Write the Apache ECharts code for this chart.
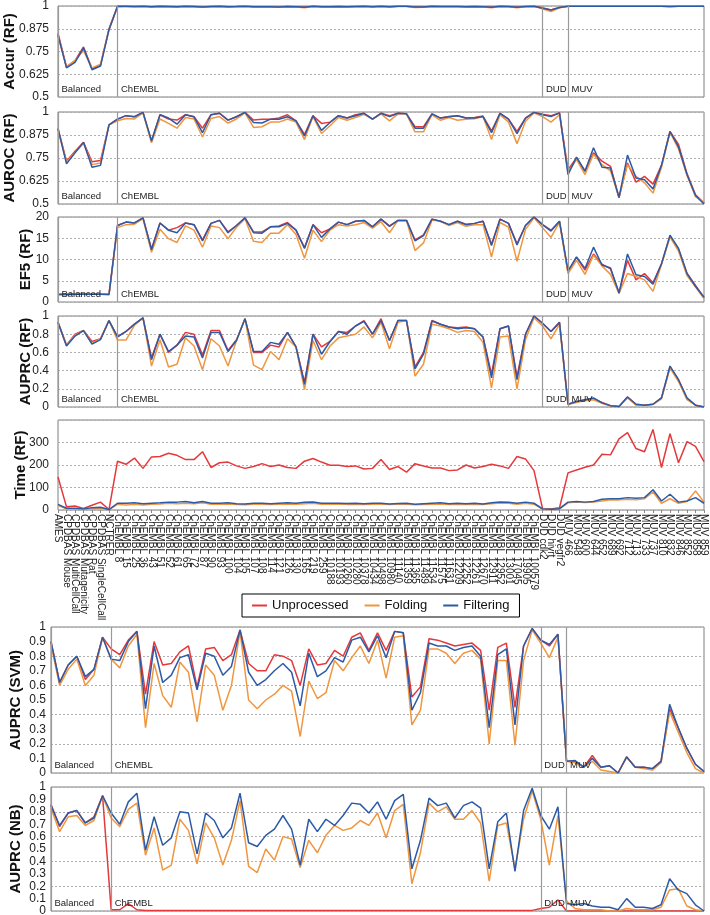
<!DOCTYPE html>
<html>
<head>
<meta charset="utf-8">
<script src="https://cdn.jsdelivr.net/npm/echarts@6/dist/echarts.min.js"></script>
<style>
  html, body { margin: 0; padding: 0; background: #fff; }
  #main { width: 710px; height: 915px; }
</style>
</head>
<body>
<div id="main"></div>
<script>
var categories = ['AMES', 'CPDBAS Mouse', 'CPDBAS MultiCellCall', 'CPDBAS Mutagenicity', 'CPDBAS Rat', 'CPDBAS SingleCellCall', 'NCTRER',
  'ChEMBL 8', 'ChEMBL 15', 'ChEMBL 25', 'ChEMBL 36', 'ChEMBL 43', 'ChEMBL 51', 'ChEMBL 52', 'ChEMBL 61', 'ChEMBL 65', 'ChEMBL 72',
  'ChEMBL 87', 'ChEMBL 90', 'ChEMBL 93', 'ChEMBL 100', 'ChEMBL 104', 'ChEMBL 105', 'ChEMBL 107', 'ChEMBL 108', 'ChEMBL 114', 'ChEMBL 121',
  'ChEMBL 126', 'ChEMBL 130', 'ChEMBL 165', 'ChEMBL 219', 'ChEMBL 259', 'ChEMBL 10188', 'ChEMBL 10193', 'ChEMBL 10260', 'ChEMBL 10280', 'ChEMBL 10378',
  'ChEMBL 10434', 'ChEMBL 10498', 'ChEMBL 10980', 'ChEMBL 11140', 'ChEMBL 11359', 'ChEMBL 11365', 'ChEMBL 11489', 'ChEMBL 11534', 'ChEMBL 11575', 'ChEMBL 11631',
  'ChEMBL 12209', 'ChEMBL 12252', 'ChEMBL 12261', 'ChEMBL 12670', 'ChEMBL 12911', 'ChEMBL 12952', 'ChEMBL 13001', 'ChEMBL 17045', 'ChEMBL 19905', 'ChEMBL 100579',
  'DUD cdk2', 'DUD hivrt', 'DUD vegfr2',
  'MUV 466', 'MUV 548', 'MUV 600', 'MUV 644', 'MUV 652', 'MUV 689', 'MUV 692', 'MUV 712', 'MUV 713', 'MUV 733', 'MUV 737',
  'MUV 810', 'MUV 832', 'MUV 846', 'MUV 852', 'MUV 858', 'MUV 859'];

// section starts (divider lines + labels)
var sections = [['AMES', 'Balanced'], ['ChEMBL 8', 'ChEMBL'], ['DUD cdk2', 'DUD'], ['MUV 466', 'MUV']];
var seriesNames = ['Unprocessed', 'Folding', 'Filtering'];

// ---- Accur (RF)
var accurUnproc = [0.85, 0.665, 0.70, 0.775, 0.655, 0.675, 0.875,
  0.998, 0.998, 0.997, 0.999, 0.996, 0.998, 0.997, 0.996, 0.998, 0.997,
  0.995, 0.997, 0.998, 0.996, 0.997, 0.999, 0.996, 0.996, 0.996, 0.995,
  0.997, 0.996, 0.993, 0.998, 0.996, 0.996, 0.997, 0.996, 0.997, 0.998,
  0.996, 0.998, 0.996, 0.998, 0.998, 0.994, 0.995, 0.998, 0.997, 0.997,
  0.997, 0.996, 0.997, 0.996, 0.993, 0.998, 0.997, 0.993, 0.997, 0.999,
  0.99, 0.978, 0.992,
  0.998, 0.998, 0.998, 0.998, 0.998, 0.998, 0.999, 0.998, 0.998, 0.998, 0.998, 0.998, 0.997, 0.998, 0.998, 0.999, 0.999];
var accurFold = [0.835, 0.665, 0.70, 0.755, 0.66, 0.68, 0.87,
  0.995, 0.996, 0.996, 0.998, 0.994, 0.996, 0.995, 0.994, 0.997, 0.996,
  0.993, 0.996, 0.996, 0.994, 0.996, 0.998, 0.994, 0.994, 0.995, 0.994,
  0.996, 0.995, 0.991, 0.997, 0.994, 0.995, 0.996, 0.995, 0.996, 0.997,
  0.995, 0.997, 0.994, 0.997, 0.997, 0.992, 0.993, 0.997, 0.996, 0.996,
  0.996, 0.995, 0.996, 0.995, 0.990, 0.997, 0.996, 0.990, 0.996, 0.998,
  0.985, 0.97, 0.99,
  0.998, 0.998, 0.998, 0.998, 0.998, 0.998, 0.999, 0.998, 0.998, 0.998, 0.998, 0.998, 0.997, 0.998, 0.998, 0.999, 0.999];
var accurFilt = [0.84, 0.66, 0.69, 0.77, 0.65, 0.67, 0.87,
  0.998, 0.998, 0.997, 0.999, 0.996, 0.998, 0.997, 0.996, 0.998, 0.997,
  0.995, 0.997, 0.998, 0.996, 0.997, 0.999, 0.996, 0.996, 0.996, 0.995,
  0.997, 0.996, 0.993, 0.998, 0.996, 0.996, 0.997, 0.996, 0.997, 0.998,
  0.996, 0.998, 0.996, 0.998, 0.998, 0.994, 0.995, 0.998, 0.997, 0.997,
  0.997, 0.996, 0.997, 0.996, 0.993, 0.998, 0.997, 0.993, 0.997, 0.999,
  0.988, 0.978, 0.992,
  0.998, 0.998, 0.998, 0.998, 0.998, 0.998, 0.999, 0.998, 0.998, 0.998, 0.998, 0.998, 0.997, 0.998, 0.998, 0.999, 0.999];

// ---- AUROC (RF)
var aurocUnproc = [0.91, 0.733, 0.787, 0.835, 0.729, 0.736, 0.93,
  0.961, 0.98, 0.974, 0.998, 0.842, 0.985, 0.962, 0.956, 0.985, 0.974,
  0.912, 0.985, 0.993, 0.956, 0.974, 0.998, 0.956, 0.961, 0.961, 0.967,
  0.985, 0.952, 0.878, 0.98, 0.938, 0.945, 0.98, 0.967, 0.985, 0.993,
  0.961, 0.993, 0.98, 0.993, 0.99, 0.92, 0.92, 0.99, 0.967, 0.976,
  0.98, 0.967, 0.97, 0.978, 0.897, 0.993, 0.961, 0.895, 0.967, 0.998,
  0.988, 0.98, 0.995,
  0.687, 0.75, 0.68, 0.778, 0.733, 0.705, 0.535, 0.723, 0.619, 0.65, 0.608, 0.71, 0.894, 0.824, 0.665, 0.55, 0.505];
var aurocFold = [0.905, 0.727, 0.78, 0.83, 0.714, 0.723, 0.93,
  0.952, 0.965, 0.962, 0.995, 0.833, 0.962, 0.938, 0.912, 0.97, 0.962,
  0.864, 0.965, 0.975, 0.94, 0.962, 0.995, 0.916, 0.92, 0.945, 0.945,
  0.962, 0.945, 0.85, 0.975, 0.883, 0.925, 0.97, 0.955, 0.97, 0.987,
  0.961, 0.99, 0.952, 0.99, 0.99, 0.892, 0.892, 0.985, 0.955, 0.97,
  0.955, 0.96, 0.963, 0.975, 0.85, 0.985, 0.945, 0.828, 0.95, 0.995,
  0.975, 0.945, 0.985,
  0.674, 0.742, 0.66, 0.77, 0.714, 0.68, 0.535, 0.714, 0.65, 0.615, 0.559, 0.70, 0.89, 0.80, 0.655, 0.54, 0.51];
var aurocFilt = [0.91, 0.718, 0.778, 0.835, 0.70, 0.71, 0.93,
  0.961, 0.98, 0.974, 0.998, 0.842, 0.985, 0.967, 0.934, 0.985, 0.974,
  0.888, 0.985, 0.993, 0.956, 0.974, 0.998, 0.943, 0.94, 0.961, 0.961,
  0.974, 0.952, 0.87, 0.98, 0.90, 0.943, 0.98, 0.967, 0.98, 0.993,
  0.961, 0.993, 0.975, 0.993, 0.99, 0.912, 0.912, 0.99, 0.967, 0.974,
  0.98, 0.967, 0.967, 0.975, 0.888, 0.993, 0.961, 0.883, 0.967, 0.998,
  0.985, 0.975, 0.995,
  0.66, 0.755, 0.678, 0.806, 0.70, 0.696, 0.535, 0.766, 0.641, 0.632, 0.582, 0.71, 0.894, 0.81, 0.66, 0.546, 0.50];

// ---- EF5 (RF)
var efUnproc = [1.7, 1.7, 1.8, 1.8, 1.8, 1.8, 1.7,
  18.0, 18.8, 18.6, 19.8, 12.5, 18.6, 16.9, 17.5, 18.6, 18.2,
  14.6, 18.5, 19.2, 16.5, 18.0, 19.8, 16.5, 16.5, 17.7, 17.9,
  18.7, 16.9, 12.8, 18.2, 16.3, 17.2, 18.8, 18.2, 19.0, 19.2,
  17.7, 19.5, 17.9, 19.2, 19.2, 14.6, 15.8, 19.5, 19.0, 18.2,
  19.0, 18.3, 18.5, 19.0, 13.6, 19.5, 18.5, 13.7, 18.0, 20.0,
  18.2, 16.9, 19.0,
  7.0, 10.5, 7.5, 11.3, 8.9, 7.8, 2.1, 9.8, 5.2, 6.7, 4.5, 9.0, 15.5, 12.5, 6.7, 3.9, 1.0];
var efFold = [1.8, 1.9, 2.0, 2.0, 1.9, 1.9, 1.8,
  17.5, 18.2, 18.3, 19.6, 11.7, 17.1, 14.9, 14.0, 17.9, 16.9,
  12.9, 17.9, 17.5, 14.9, 17.6, 19.6, 14.3, 14.0, 16.2, 16.2,
  18.2, 15.9, 10.3, 16.9, 14.2, 16.9, 18.2, 17.9, 18.2, 18.7,
  17.4, 18.9, 16.3, 19.2, 19.2, 12.1, 13.9, 19.3, 19.0, 18.0,
  18.7, 17.8, 18.2, 18.2, 10.6, 18.7, 17.6, 9.6, 17.1, 19.8,
  17.5, 15.2, 18.8,
  6.7, 9.8, 6.5, 11.0, 8.5, 6.5, 2.0, 6.7, 6.0, 5.2, 2.5, 8.8, 15.3, 12.0, 6.2, 3.5, 0.8];
var efFilt = [1.8, 1.8, 1.8, 1.8, 1.8, 1.8, 1.8,
  18.0, 18.8, 18.6, 19.8, 12.3, 18.6, 16.9, 16.3, 18.6, 18.2,
  14.4, 18.5, 19.2, 16.3, 18.0, 19.8, 16.3, 16.2, 17.7, 17.7,
  18.5, 16.9, 12.6, 18.2, 15.2, 17.2, 18.8, 18.2, 19.0, 19.2,
  17.7, 19.5, 17.8, 19.2, 19.2, 14.4, 15.6, 19.5, 19.0, 18.2,
  19.0, 18.2, 18.5, 19.0, 13.3, 19.5, 18.5, 13.4, 18.0, 20.0,
  18.2, 16.7, 19.0,
  7.3, 10.6, 7.9, 12.9, 8.7, 8.0, 2.1, 11.3, 6.4, 6.0, 4.2, 9.0, 15.7, 12.6, 6.7, 3.7, 1.1];

// ---- AUPRC (RF)
var prcRfUnproc = [0.93, 0.68, 0.80, 0.84, 0.72, 0.75, 0.95,
  0.77, 0.83, 0.91, 0.98, 0.54, 0.80, 0.60, 0.68, 0.82, 0.80,
  0.57, 0.84, 0.84, 0.62, 0.74, 0.97, 0.60, 0.60, 0.68, 0.66,
  0.82, 0.66, 0.27, 0.80, 0.66, 0.72, 0.83, 0.82, 0.89, 0.95,
  0.80, 0.97, 0.73, 0.95, 0.95, 0.44, 0.60, 0.95, 0.91, 0.88,
  0.87, 0.88, 0.86, 0.77, 0.36, 0.86, 0.89, 0.33, 0.80, 1.0,
  0.92, 0.83, 0.93,
  0.03, 0.055, 0.08, 0.09, 0.05, 0.015, 0.005, 0.11, 0.03, 0.02, 0.03, 0.10, 0.44, 0.30, 0.09, 0.02, 0.0];
var prcRfFold = [0.93, 0.68, 0.79, 0.84, 0.70, 0.75, 0.95,
  0.735, 0.735, 0.90, 0.98, 0.45, 0.74, 0.44, 0.47, 0.76, 0.67,
  0.41, 0.75, 0.67, 0.45, 0.73, 0.97, 0.46, 0.41, 0.61, 0.52,
  0.75, 0.66, 0.19, 0.73, 0.52, 0.67, 0.76, 0.78, 0.80, 0.88,
  0.76, 0.93, 0.64, 0.93, 0.95, 0.34, 0.47, 0.91, 0.89, 0.86,
  0.82, 0.84, 0.83, 0.71, 0.21, 0.77, 0.78, 0.20, 0.74, 0.98,
  0.89, 0.75, 0.91,
  0.03, 0.05, 0.07, 0.08, 0.04, 0.01, 0.005, 0.10, 0.02, 0.02, 0.03, 0.09, 0.43, 0.28, 0.08, 0.02, 0.0];
var prcRfFilt = [0.93, 0.67, 0.78, 0.84, 0.69, 0.74, 0.95,
  0.77, 0.83, 0.91, 0.98, 0.52, 0.80, 0.61, 0.68, 0.78, 0.77,
  0.54, 0.82, 0.82, 0.61, 0.73, 0.97, 0.61, 0.61, 0.71, 0.69,
  0.82, 0.66, 0.25, 0.80, 0.58, 0.72, 0.83, 0.80, 0.89, 0.94,
  0.80, 0.95, 0.73, 0.95, 0.95, 0.42, 0.58, 0.945, 0.91, 0.88,
  0.86, 0.87, 0.86, 0.77, 0.32, 0.86, 0.89, 0.30, 0.80, 1.0,
  0.92, 0.83, 0.93,
  0.03, 0.06, 0.08, 0.10, 0.045, 0.015, 0.005, 0.11, 0.03, 0.02, 0.03, 0.10, 0.45, 0.30, 0.10, 0.02, 0.0];

// ---- Time (RF)
var timeUnproc = [147, 14, 18, 7, 21, 35, 2,
  217, 203, 231, 185, 236, 238, 252, 243, 224, 224,
  259, 189, 210, 213, 196, 185, 193, 206, 193, 200,
  189, 185, 217, 229, 213, 199, 199, 193, 196, 182,
  185, 224, 180, 193, 168, 206, 196, 187, 187, 175,
  178, 200, 187, 193, 203, 196, 185, 238, 227, 175,
  7, 4, 10,
  165, 178, 190, 200, 248, 245, 316, 344, 273, 259, 358, 189, 339, 210, 304, 283, 215];
var timeFold = [20, 5, 5, 3, 5, 8, 2,
  25, 22, 25, 22, 26, 27, 30, 28, 30, 28,
  32, 25, 26, 27, 24, 23, 25, 26, 24, 26,
  27, 26, 28, 30, 26, 25, 26, 25, 25, 24,
  26, 27, 24, 25, 26, 23, 24, 25, 27, 24,
  26, 24, 26, 24, 28, 31, 30, 26, 30, 26,
  4, 2, 5,
  32, 35, 33, 35, 40, 45, 45, 48, 45, 50, 80, 30, 50, 30, 38, 85, 35];
var timeFilt = [25, 8, 8, 5, 10, 12, 2,
  30, 30, 32, 28, 30, 32, 35, 35, 38, 32,
  38, 30, 30, 32, 28, 27, 30, 30, 28, 30,
  32, 30, 34, 36, 30, 30, 30, 29, 30, 28,
  30, 30, 27, 29, 30, 26, 28, 30, 32, 28,
  30, 28, 30, 27, 32, 36, 34, 30, 35, 30,
  5, 3, 6,
  35, 38, 35, 38, 48, 50, 50, 55, 52, 55, 90, 40, 70, 35, 40, 55, 30];

// ---- AUPRC (SVM)
var prcSvmUnproc = [0.9, 0.62, 0.74, 0.8, 0.64, 0.71, 0.93,
  0.85, 0.81, 0.91, 0.97, 0.54, 0.90, 0.74, 0.75, 0.83, 0.87,
  0.59, 0.85, 0.86, 0.77, 0.81, 0.98, 0.75, 0.70, 0.70, 0.81,
  0.80, 0.77, 0.60, 0.85, 0.74, 0.75, 0.84, 0.80, 0.93, 0.96,
  0.84, 0.96, 0.84, 0.97, 0.96, 0.52, 0.59, 0.92, 0.91, 0.89,
  0.87, 0.88, 0.89, 0.84, 0.43, 0.86, 0.89, 0.45, 0.87, 0.99,
  0.91, 0.87, 0.95,
  0.08, 0.08, 0.04, 0.12, 0.04, 0.05, 0.0, 0.11, 0.04, 0.04, 0.03, 0.08, 0.44, 0.31, 0.17, 0.06, 0.01];
var prcSvmFold = [0.88, 0.60, 0.71, 0.78, 0.60, 0.67, 0.93,
  0.78, 0.72, 0.87, 0.95, 0.31, 0.75, 0.53, 0.45, 0.76, 0.69,
  0.35, 0.74, 0.67, 0.43, 0.60, 0.97, 0.50, 0.44, 0.50, 0.54,
  0.60, 0.56, 0.25, 0.63, 0.51, 0.55, 0.77, 0.70, 0.79, 0.87,
  0.75, 0.91, 0.65, 0.93, 0.94, 0.33, 0.43, 0.85, 0.85, 0.82,
  0.75, 0.82, 0.84, 0.78, 0.20, 0.77, 0.77, 0.19, 0.77, 0.98,
  0.89, 0.79, 0.93,
  0.08, 0.07, 0.04, 0.08, 0.02, 0.01, 0.0, 0.11, 0.04, 0.03, 0.02, 0.07, 0.42, 0.28, 0.14, 0.03, 0.0];
var prcSvmFilt = [0.9, 0.62, 0.74, 0.8, 0.66, 0.71, 0.93,
  0.78, 0.77, 0.90, 0.97, 0.44, 0.87, 0.62, 0.67, 0.79, 0.81,
  0.57, 0.82, 0.80, 0.67, 0.73, 0.98, 0.69, 0.60, 0.64, 0.70,
  0.75, 0.69, 0.46, 0.82, 0.66, 0.70, 0.79, 0.76, 0.91, 0.93,
  0.83, 0.94, 0.79, 0.97, 0.96, 0.43, 0.55, 0.89, 0.87, 0.87,
  0.84, 0.86, 0.87, 0.80, 0.31, 0.81, 0.85, 0.33, 0.87, 0.99,
  0.91, 0.88, 0.95,
  0.08, 0.085, 0.04, 0.10, 0.04, 0.05, 0.0, 0.11, 0.04, 0.04, 0.03, 0.08, 0.47, 0.31, 0.17, 0.06, 0.01];

// ---- AUPRC (NB)
var prcNbUnproc = [0.86, 0.68, 0.79, 0.81, 0.71, 0.76, 0.93,
  0.01, 0.01, 0.06, 0.01, 0.005, 0.005, 0.005, 0.005, 0.005, 0.005,
  0.005, 0.005, 0.005, 0.005, 0.005, 0.005, 0.005, 0.005, 0.005, 0.005,
  0.005, 0.005, 0.005, 0.005, 0.005, 0.005, 0.005, 0.005, 0.005, 0.005,
  0.005, 0.005, 0.005, 0.005, 0.005, 0.005, 0.005, 0.005, 0.005, 0.005,
  0.005, 0.005, 0.005, 0.005, 0.005, 0.005, 0.005, 0.005, 0.005, 0.005,
  0.02, 0.03, 0.09,
  0.0, 0.0, 0.0, 0.0, 0.0, 0.0, 0.0, 0.0, 0.0, 0.0, 0.0, 0.0, 0.0, 0.0, 0.0, 0.0, 0.0];
var prcNbFold = [0.83, 0.64, 0.76, 0.77, 0.69, 0.73, 0.93,
  0.75, 0.68, 0.82, 0.87, 0.45, 0.67, 0.33, 0.37, 0.74, 0.65,
  0.38, 0.71, 0.59, 0.37, 0.57, 0.89, 0.36, 0.31, 0.50, 0.41,
  0.60, 0.58, 0.35, 0.57, 0.47, 0.61, 0.69, 0.65, 0.67, 0.73,
  0.69, 0.79, 0.59, 0.81, 0.86, 0.22, 0.47, 0.87, 0.80, 0.84,
  0.74, 0.74, 0.81, 0.71, 0.24, 0.69, 0.71, 0.34, 0.74, 0.97,
  0.74, 0.37, 0.77,
  0.08, 0.02, 0.01, 0.01, 0.01, 0.0, 0.0, 0.02, 0.01, 0.01, 0.01, 0.03, 0.17, 0.18, 0.04, 0.01, 0.0];
var prcNbFilt = [0.85, 0.69, 0.79, 0.81, 0.71, 0.75, 0.93,
  0.79, 0.70, 0.88, 0.95, 0.49, 0.76, 0.53, 0.59, 0.80, 0.79,
  0.46, 0.79, 0.73, 0.59, 0.67, 0.95, 0.55, 0.52, 0.61, 0.66,
  0.77, 0.66, 0.37, 0.74, 0.64, 0.74, 0.69, 0.77, 0.87, 0.86,
  0.79, 0.88, 0.74, 0.89, 0.94, 0.34, 0.57, 0.91, 0.85, 0.87,
  0.75, 0.85, 0.88, 0.83, 0.34, 0.72, 0.79, 0.32, 0.81, 0.99,
  0.77, 0.66, 0.84,
  0.06, 0.05, 0.06, 0.04, 0.03, 0.03, 0.01, 0.10, 0.03, 0.03, 0.02, 0.05, 0.26, 0.17, 0.14, 0.05, 0.0];

var colors = ['#e5383b', '#f0963f', '#2c5aa6'];
var font = 'Liberation Sans, Arial, sans-serif';

// one entry per panel: name, grid placement, axis range, data
var panels = [
  { name: 'Accur (RF)', left: 58, top: 6, height: 91, min: 0.5, max: 1, interval: 0.125, gap: 41, sections: true,
    data: [accurUnproc, accurFold, accurFilt] },
  { name: 'AUROC (RF)', left: 58, top: 112, height: 92, min: 0.5, max: 1, interval: 0.125, gap: 41, sections: true,
    data: [aurocUnproc, aurocFold, aurocFilt] },
  { name: 'EF5 (RF)', left: 58, top: 217, height: 85, min: 0, max: 20, interval: 5, gap: 25, sections: true,
    data: [efUnproc, efFold, efFilt] },
  { name: 'AUPRC (RF)', left: 58, top: 316, height: 91, min: 0, max: 1, interval: 0.2, gap: 25, sections: true,
    data: [prcRfUnproc, prcRfFold, prcRfFilt] },
  { name: 'Time (RF)', left: 58, top: 420, height: 90, min: 0, max: 400, interval: 100, gap: 30, sections: false,
    xLabels: true, hideMax: true, data: [timeUnproc, timeFold, timeFilt] },
  { name: 'AUPRC (SVM)', left: 51, top: 627, height: 146, min: 0, max: 1, interval: 0.1, gridStep: 0.2, gap: 28, sections: true,
    data: [prcSvmUnproc, prcSvmFold, prcSvmFilt] },
  { name: 'AUPRC (NB)', left: 51, top: 787, height: 124, min: 0, max: 1, interval: 0.1, gridStep: 0.2, gap: 28, sections: true,
    data: [prcNbUnproc, prcNbFold, prcNbFilt] }
];

var grids = [], xAxes = [], yAxes = [], series = [];

panels.forEach(function (p, gi) {
  grids.push({
    left: p.left, right: 6, top: p.top, height: p.height,
    outerBoundsMode: 'none', containLabel: false,
    show: true, borderColor: '#7f7f7f', borderWidth: 1
  });
  xAxes.push({
    type: 'category', gridIndex: gi, data: categories, boundaryGap: false,
    axisLine: { show: false },
    axisTick: { show: !!p.xLabels, length: 3, lineStyle: { color: '#888' } },
    axisLabel: {
      show: !!p.xLabels, interval: 0, rotate: -90, fontSize: 10, margin: 4,
      color: '#222', fontFamily: font
    },
    splitLine: { show: false }
  });
  var yIndex = yAxes.length;
  yAxes.push({
    type: 'value', gridIndex: gi, min: p.min, max: p.max, interval: p.interval,
    name: p.name, nameLocation: 'middle', nameGap: p.gap, nameRotate: 90, nameMoveOverlap: false,
    nameTextStyle: { fontSize: 15, fontWeight: 'bold', color: '#111', fontFamily: font },
    axisLine: { show: false }, axisTick: { show: false },
    axisLabel: {
      fontSize: 12, color: '#222', margin: p.gridStep ? 5 : 9,
      fontFamily: font, showMaxLabel: !p.hideMax
    },
    splitLine: { show: !p.gridStep, lineStyle: { color: '#b0b0b0', type: [2, 2] } }
  });
  if (p.gridStep) {
    // labels every 0.1, dotted lines every 0.2
    yAxes.push({
      type: 'value', gridIndex: gi, min: p.min, max: p.max, interval: p.gridStep, position: 'left',
      axisLine: { show: false }, axisTick: { show: false }, axisLabel: { show: false },
      splitLine: { show: true, lineStyle: { color: '#b0b0b0', type: [2, 2] } }
    });
  }

  p.data.forEach(function (vals, si) {
    var s = {
      name: seriesNames[si], type: 'line', xAxisIndex: gi, yAxisIndex: yIndex,
      data: vals, symbol: 'none', silent: true,
      lineStyle: { width: 1.5, color: colors[si] },
      itemStyle: { color: colors[si] }
    };
    if (si === 0 && p.sections) {
      s.markLine = {
        silent: true, symbol: ['none', 'none'], label: { show: false },
        lineStyle: { color: '#9a9a9a', type: 'solid', width: 1.2 },
        data: sections.map(function (sec) { return { xAxis: sec[0] }; })
      };
      s.markPoint = {
        silent: true, symbol: 'circle', symbolSize: 1,
        itemStyle: { color: 'rgba(0,0,0,0)' },
        label: {
          show: true, position: 'right', distance: 3, offset: [0, -8],
          formatter: '{b}', fontSize: 9.5, color: '#222', fontFamily: font
        },
        data: sections.map(function (sec) { return { name: sec[1], coord: [sec[0], p.min] }; })
      };
    }
    series.push(s);
  });
});

var chart = echarts.init(document.getElementById('main'));
chart.setOption({
  animation: false,
  backgroundColor: '#fff',
  textStyle: { fontFamily: font },
  legend: {
    data: seriesNames, top: 594, left: 242,
    borderColor: '#000', borderWidth: 1, padding: [5, 10], itemGap: 16,
    icon: 'rect', itemWidth: 15, itemHeight: 2,
    textStyle: { fontSize: 13, color: '#111', fontFamily: font }
  },
  grid: grids,
  xAxis: xAxes,
  yAxis: yAxes,
  series: series
});
</script>
</body>
</html>
